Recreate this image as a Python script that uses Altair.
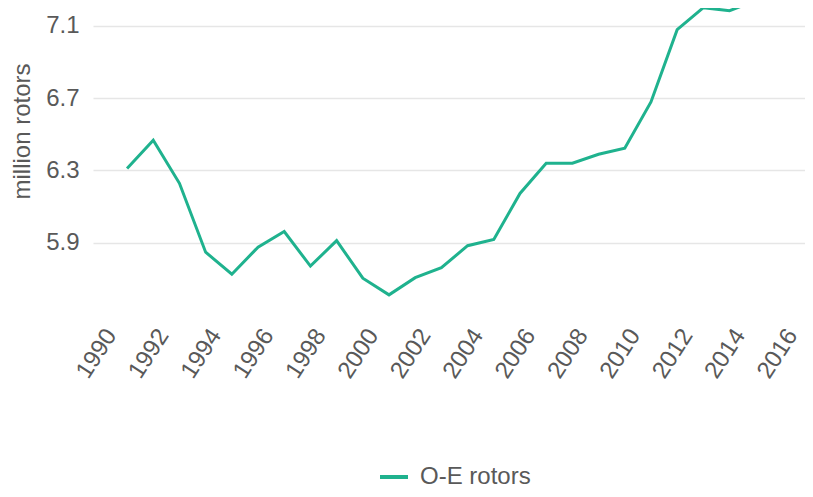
import altair as alt
import pandas as pd

years = list(range(1991, 2016))
values = [6.31, 6.467, 6.228, 5.847, 5.725, 5.875, 5.961, 5.77, 5.911, 5.703,
          5.611, 5.706, 5.761, 5.883, 5.917, 6.172, 6.339, 6.339, 6.389, 6.422,
          6.678, 7.078, 7.2, 7.183, 7.239]
series_name = "O-E rotors"
x_ticks = list(range(1990, 2017, 2))
y_ticks = [5.9, 6.3, 6.7, 7.1]

df = pd.DataFrame({"year": years, "value": values, "series": [series_name] * len(years)})

FONT = "Liberation Sans"
GRAY = "#595959"
TEAL = "#1fb28e"

chart = alt.Chart(df).mark_line(strokeWidth=3, clip=True).encode(
    x=alt.X("year:Q",
            scale=alt.Scale(domain=[1989.7, 2016.88], nice=False, zero=False),
            axis=alt.Axis(values=x_ticks, format="d", title=None, grid=False,
                          domain=False, ticks=False, labelAngle=-57,
                          labelAlign="right", labelBaseline="middle",
                          labelOffset=10, labelPadding=17, labelFontSize=24,
                          labelColor=GRAY, labelFont=FONT, labelOverlap=False)),
    y=alt.Y("value:Q",
            scale=alt.Scale(domain=[5.505, 7.198], nice=False, zero=False),
            axis=alt.Axis(values=y_ticks, format=".1f", title="million rotors",
                          grid=True, gridColor="#e6e6e6", gridWidth=1.5,
                          domain=False, ticks=False, labelPadding=14,
                          labelFontSize=24, labelColor=GRAY, labelFont=FONT,
                          titleFontSize=24, titleFontWeight="normal",
                          titleColor=GRAY, titleFont=FONT, titleAngle=-90,
                          titleX=-71, titleY=123, titleAlign="center",
                          titleBaseline="middle")),
    color=alt.Color("series:N",
                    scale=alt.Scale(domain=[series_name], range=[TEAL]),
                    legend=alt.Legend(title=None, orient="none", legendX=285,
                                      legendY=453, symbolType="stroke",
                                      symbolSize=784, symbolStrokeWidth=4,
                                      labelFontSize=24, labelColor=GRAY,
                                      labelFont=FONT, labelOffset=10,
                                      padding=0)),
).properties(
    width=712, height=306,
    autosize=alt.AutoSizeParams(type="none"),
    padding={"left": 85, "top": 0, "right": 0, "bottom": 175},
).configure_view(stroke=None)

chart.save("out.html", embed_options={"renderer": "svg", "actions": False})
